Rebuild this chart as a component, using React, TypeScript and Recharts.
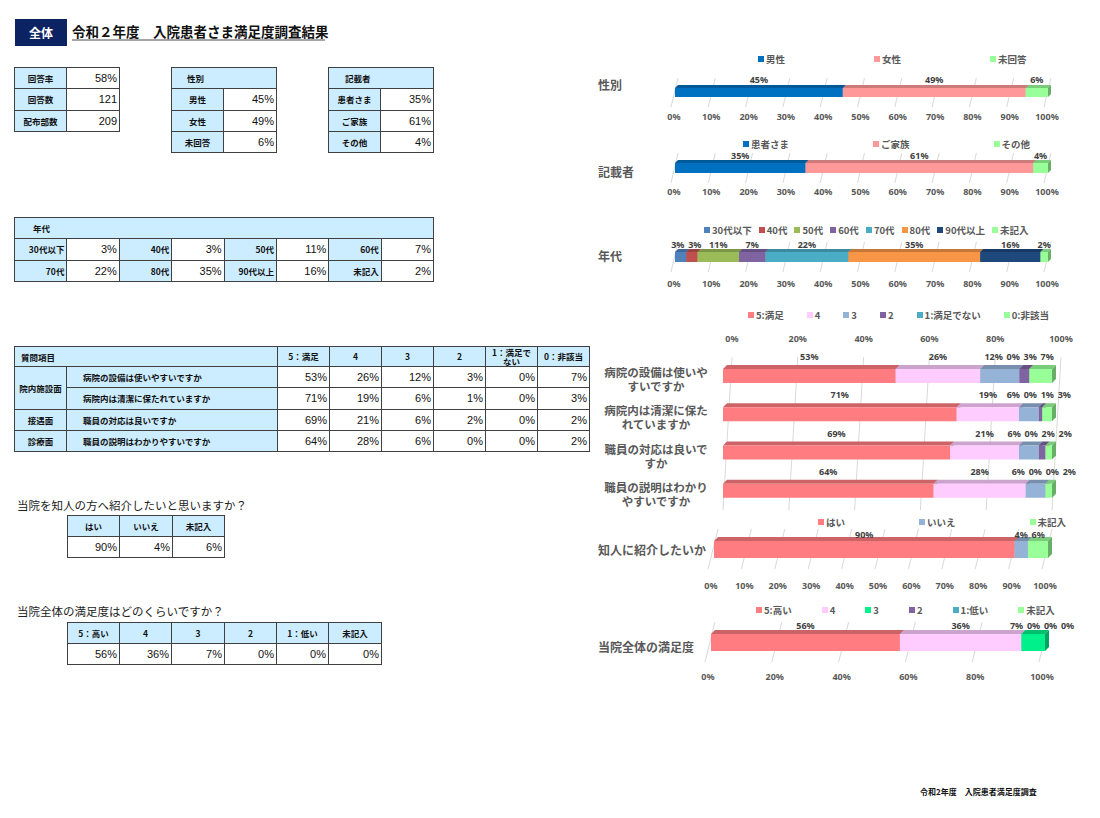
import React from 'react';
import { BarChart, Bar, XAxis, YAxis, CartesianGrid, Legend } from 'recharts';

// ---------------- data ----------------
const pageTag = '全体';
const pageTitle = '令和２年度　入院患者さま満足度調査結果';
const footerText = '令和2年度　入院患者満足度調査';

const responseLabels = ['回答率', '回答数', '配布部数'];
const responseValues = ['58%', '121', '209'];

const genderTitle = '性別';
const genderLabels = ['男性', '女性', '未回答'];
const genderValues = [45, 49, 6];

const writerTitle = '記載者';
const writerLabels = ['患者さま', 'ご家族', 'その他'];
const writerValues = [35, 61, 4];

const ageTitle = '年代';
const ageLabels = ['30代以下', '40代', '50代', '60代', '70代', '80代', '90代以上', '未記入'];
const ageValues = [3, 3, 11, 7, 22, 35, 16, 2];

const questionHeader = '質問項目';
const ratingHeaders = ['5：満足', '4', '3', '2', '1：満足でない', '0：非該当'];
const ratingLegend = ['5:満足', '4', '3', '2', '1:満足でない', '0:非該当'];
const questionGroups = ['院内施設面', '接遇面', '診療面'];
const questionGroupSpans = [2, 1, 1];
const questionTexts = [
  '病院の設備は使いやすいですか',
  '病院内は清潔に保たれていますか',
  '職員の対応は良いですか',
  '職員の説明はわかりやすいですか',
];
const questionChartLabels = [
  '病院の設備は使いや\nすいですか',
  '病院内は清潔に保た\nれていますか',
  '職員の対応は良いで\nすか',
  '職員の説明はわかり\nやすいですか',
];
const rating5 = [53, 71, 69, 64];
const rating4 = [26, 19, 21, 28];
const rating3 = [12, 6, 6, 6];
const rating2 = [3, 1, 2, 0];
const rating1 = [0, 0, 0, 0];
const rating0 = [7, 3, 2, 2];
const ratingRows = [rating5, rating4, rating3, rating2, rating1, rating0];
const ratingStackOrder = [0, 1, 2, 4, 3, 5];

const recommendQuestion = '当院を知人の方へ紹介したいと思いますか？';
const recommendTitle = '知人に紹介したいか';
const recommendLabels = ['はい', 'いいえ', '未記入'];
const recommendValues = [90, 4, 6];

const overallQuestion = '当院全体の満足度はどのくらいですか？';
const overallTitle = '当院全体の満足度';
const overallLabels = ['5：高い', '4', '3', '2', '1：低い', '未記入'];
const overallLegend = ['5:高い', '4', '3', '2', '1:低い', '未記入'];
const overallValues = [56, 36, 7, 0, 0, 0];

const tenthTicks = [0, 0.1, 0.2, 0.3, 0.4, 0.5, 0.6, 0.7, 0.8, 0.9, 1];
const fifthTicks = [0, 0.2, 0.4, 0.6, 0.8, 1];

const twoColors = ['#0070c0', '#ff9999', '#99ff99'];
const ageColors = ['#4f81bd', '#c0504d', '#9bbb59', '#8064a2', '#4bacc6', '#f79646', '#1f497d', '#99ff99'];
const ratingColors = ['#ff7c80', '#ffccff', '#95b3d7', '#8064a2', '#4bacc6', '#99ff99'];
const recommendColors = ['#ff7c80', '#95b3d7', '#99ff99'];
const overallColors = ['#ff7c80', '#ffccff', '#00f08c', '#8064a2', '#4bacc6', '#99ff99'];

// ---------------- styles ----------------
const FONT = '"Noto Sans CJK JP", "Noto Sans", sans-serif';
const NUM = '"Liberation Sans", Arial, sans-serif';
const TICKFONT = '"Noto Sans", "Noto Sans CJK JP", sans-serif';
const GRAY = '#595959';
const BORDER = '1px solid #404040';
const HEAD_BG = '#ccecff';

const labelCell = (o: React.CSSProperties = {}): React.CSSProperties => ({
  border: BORDER, background: HEAD_BG, fontFamily: FONT, fontWeight: 700, fontSize: 8.5,
  color: '#111', textAlign: 'center', padding: '0 2px', whiteSpace: 'nowrap', overflow: 'hidden', ...o,
});
const valueCell = (o: React.CSSProperties = {}): React.CSSProperties => ({
  border: BORDER, background: '#fff', fontFamily: NUM, fontSize: 11, color: '#111',
  textAlign: 'right', padding: '0 2px', whiteSpace: 'nowrap', ...o,
});

function Tbl({ left, top, cols, children }: { left: number; top: number; cols: number[]; children: any }) {
  const w = cols.reduce((a, b) => a + b, 0);
  return (
    <table style={{ position: 'absolute', left, top, width: w, borderCollapse: 'collapse', tableLayout: 'fixed' }}>
      <colgroup>{cols.map((c, i) => <col key={i} style={{ width: c }} />)}</colgroup>
      <tbody>{children}</tbody>
    </table>
  );
}

// ---------------- chart helpers ----------------
function shade(hex: string, f: number) {
  const n = parseInt(hex.slice(1), 16);
  const r = Math.round(((n >> 16) & 255) * f);
  const g = Math.round(((n >> 8) & 255) * f);
  const b = Math.round((n & 255) * f);
  return `rgb(${r},${g},${b})`;
}

function Box3D(props: any) {
  const { x, y, width, height, fill, depth } = props;
  if (!width || width <= 0.01) return <g />;
  const d = depth;
  return (
    <g>
      <polygon points={`${x},${y} ${x + width},${y} ${x + width + d},${y - d} ${x + d},${y - d}`} fill={shade(fill, 0.8)} />
      <polygon points={`${x + width},${y} ${x + width + d},${y - d} ${x + width + d},${y + height - d} ${x + width},${y + height}`} fill={shade(fill, 0.68)} />
      <rect x={x} y={y} width={width} height={height} fill={fill} />
    </g>
  );
}

function spreadLabels(values: number[], plotW: number): number[] {
  const sum = values.reduce((a, b) => a + b, 0) || 1;
  let cum = 0;
  const centers = values.map((v) => {
    const c = ((cum + v / 2) / sum) * plotW;
    cum += v;
    return c;
  });
  const widths = values.map((v) => String(v).length * 5 + 8);
  const pos = centers.slice();
  for (let it = 0; it < 200; it++) {
    for (let i = 1; i < pos.length; i++) {
      const need = (widths[i - 1] + widths[i]) / 2 + 4;
      const gap = pos[i] - pos[i - 1];
      if (gap < need) {
        const d = (need - gap) / 2;
        pos[i - 1] -= d;
        pos[i] += d;
      }
    }
  }
  return pos.map((p, i) => p - centers[i]);
}

function LegendRow({ names, colors, start, gap }: { names: string[]; colors: string[]; start: number; gap: number }) {
  return (
    <div style={{ display: 'flex', paddingLeft: start, columnGap: gap, fontFamily: FONT, fontSize: 9.5, fontWeight: 700, color: GRAY, lineHeight: '12px', whiteSpace: 'nowrap' }}>
      {names.map((n, i) => (
        <div key={n + i} style={{ display: 'flex', alignItems: 'center' }}>
          <span style={{ display: 'inline-block', width: 6, height: 6, background: colors[i], marginRight: 2 }} />
          {n}
        </div>
      ))}
    </div>
  );
}

type Geo = {
  left: number; top: number; width: number; height: number;
  margin: { top: number; right: number; bottom: number; left: number };
  yWidth: number; xOrient: 'top' | 'bottom'; xHeight: number; tickMargin: number; tickDx: number;
  barSize: number; depth: number; labelRise: number;
  legendTop: number; legendStart: number; legendGap: number;
  gridTop: number; gridBottom: number;
};

function StackChart({ geo, names, rows, seriesNames, colors, stackOrder, ticks, categoryTick }: {
  geo: Geo; names: string[]; rows: number[][]; seriesNames: string[]; colors: string[];
  stackOrder: number[]; ticks: number[]; categoryTick: (p: any) => any;
}) {
  const keys = seriesNames.map((_, i) => `s${i}`);
  const data = names.map((name, r) => {
    const o: any = { name };
    rows.forEach((vals, si) => { o[keys[si]] = vals[r]; });
    return o;
  });
  const plotW = geo.width - geo.margin.left - geo.margin.right - geo.yWidth;
  const shifts = names.map((_, r) => spreadLabels(stackOrder.map((si) => rows[si][r]), plotW));

  const renderLabel = (lp: any, pos: number, si: number) => {
    const vb = lp.viewBox || {};
    const bx = vb.x ?? lp.x;
    const bw = vb.width ?? lp.width ?? 0;
    const by = vb.y ?? lp.y;
    const r = typeof lp.index === 'number' ? lp.index : 0;
    const v = rows[si][r];
    return (
      <text key={`lab-${si}-${r}`} x={bx + bw / 2 + shifts[r][pos]} y={by - geo.labelRise} textAnchor="middle" dominantBaseline="central"
        fontSize={9} fontWeight={700} fill="#404040" fontFamily={TICKFONT}>{`${v}%`}</text>
    );
  };

  return (
    <div style={{ position: 'absolute', left: geo.left, top: geo.top }}>
      <BarChart width={geo.width} height={geo.height} data={data} layout="vertical" stackOffset="expand" margin={geo.margin}>
        <CartesianGrid horizontal={false}
          vertical={(lp: any) => (
            <line key={lp.key ?? `g${lp.index}`} x1={lp.x1 + geo.gridTop} y1={lp.y1} x2={lp.x2 + geo.gridBottom} y2={lp.y2} stroke="#d9d9d9" strokeWidth={1} />
          )} />
        <XAxis type="number" domain={[0, 1]} ticks={ticks} orientation={geo.xOrient} height={geo.xHeight}
          tickSize={0} tickMargin={geo.tickMargin} axisLine={false} tickLine={false} interval={0}
          tickFormatter={(v: number) => `${Math.round(v * 100)}%`}
          tick={{ fontSize: 9, fontWeight: 700, fill: GRAY, fontFamily: TICKFONT, dx: geo.tickDx }} />
        <YAxis type="category" dataKey="name" width={geo.yWidth} axisLine={false} tickLine={false} interval={0} tick={categoryTick} />
        <Legend verticalAlign="middle" align="center" layout="horizontal"
          wrapperStyle={{ top: geo.legendTop, left: 0, width: geo.width, height: 12 }}
          content={() => <LegendRow names={seriesNames} colors={colors} start={geo.legendStart} gap={geo.legendGap} />} />
        {stackOrder.map((si, pos) => (
          <Bar key={keys[si]} dataKey={keys[si]} name={seriesNames[si]} stackId="a" fill={colors[si]}
            barSize={geo.barSize} isAnimationActive={false}
            shape={(sp: any) => <Box3D {...sp} fill={colors[si]} depth={geo.depth} />}
            label={(lp: any) => renderLabel(lp, pos, si)} />
        ))}
      </BarChart>
    </div>
  );
}

const singleTick = (dy: number) => (tp: any) => (
  <text x={8} y={tp.y + dy} dominantBaseline="central" fontSize={12} fontWeight={700} fill={GRAY} fontFamily={FONT}>
    {tp.payload.value}
  </text>
);

const questionTick = (tp: any) => {
  const lines = String(tp.payload.value).split('\n');
  return (
    <text textAnchor="middle" fontSize={11.5} fontWeight={700} fill={GRAY} fontFamily={FONT}>
      {lines.map((l, i) => (
        <tspan key={i} x={66} y={tp.y - 3 + i * 14 + 4}>{l}</tspan>
      ))}
    </text>
  );
};

const geoGender: Geo = {
  left: 590, top: 48, width: 480, height: 78, margin: { top: 30, right: 22, bottom: 1, left: 0 },
  yWidth: 85, xOrient: 'bottom', xHeight: 18, tickMargin: 6.5, tickDx: -1, barSize: 9, depth: 3, labelRise: 9,
  legendTop: 5, legendStart: 168, legendGap: 89, gridTop: 3, gridBottom: -4,
};
const geoWriter: Geo = {
  left: 590, top: 126, width: 480, height: 76, margin: { top: 27, right: 22, bottom: 1, left: 0 },
  yWidth: 85, xOrient: 'bottom', xHeight: 18, tickMargin: 5.5, tickDx: -1, barSize: 10, depth: 3, labelRise: 8,
  legendTop: 12, legendStart: 153, legendGap: 84, gridTop: 3, gridBottom: -4,
};
const geoAge: Geo = {
  left: 590, top: 214, width: 480, height: 80, margin: { top: 28, right: 22, bottom: 2, left: 0 },
  yWidth: 85, xOrient: 'bottom', xHeight: 20, tickMargin: 9, tickDx: -1, barSize: 10, depth: 3, labelRise: 8,
  legendTop: 10, legendStart: 114, legendGap: 7, gridTop: 3, gridBottom: -4,
};
const geoQuestions: Geo = {
  left: 590, top: 300, width: 505, height: 212, margin: { top: 41, right: 43, bottom: 2, left: 0 },
  yWidth: 133, xOrient: 'top', xHeight: 16, tickMargin: 15, tickDx: 9, barSize: 14, depth: 4, labelRise: 12.5,
  legendTop: 9, legendStart: 158, legendGap: 23, gridTop: 9, gridBottom: 0,
};
const geoRecommend: Geo = {
  left: 590, top: 510, width: 480, height: 85, margin: { top: 19, right: 22, bottom: 2, left: 0 },
  yWidth: 124, xOrient: 'bottom', xHeight: 24, tickMargin: 14, tickDx: -3, barSize: 17, depth: 4, labelRise: 7,
  legendTop: 6, legendStart: 228, legendGap: 74, gridTop: 4, gridBottom: -6,
};
const geoOverall: Geo = {
  left: 590, top: 600, width: 505, height: 86, margin: { top: 22, right: 50, bottom: 2, left: 0 },
  yWidth: 121, xOrient: 'bottom', xHeight: 22, tickMargin: 11.5, tickDx: -3, barSize: 17, depth: 4, labelRise: 8.5,
  legendTop: 4, legendStart: 166, legendGap: 30, gridTop: 4, gridBottom: -6,
};

const single = (vals: number[]) => vals.map((v) => [v]);
const idx = (n: number) => Array.from({ length: n }, (_, i) => i);

export default function App() {
  const rowH = 21.3;
  return (
    <div style={{ position: 'relative', width: 1100, height: 818, margin: -8, background: '#fff', overflow: 'hidden', fontFamily: FONT }}>
      {/* header */}
      <div style={{ position: 'absolute', left: 15, top: 19, width: 52, height: 27, background: '#0c2363', color: '#fff', fontWeight: 700, fontSize: 12, display: 'flex', alignItems: 'center', justifyContent: 'center' }}>{pageTag}</div>
      <div style={{ position: 'absolute', left: 72, top: 24, width: 253, fontSize: 13.5, fontWeight: 700, lineHeight: '15px', color: '#111', borderBottom: '2px solid #a6a6a6', whiteSpace: 'nowrap' }}>{pageTitle}</div>

      {/* response table */}
      <Tbl left={14} top={67} cols={[52, 53]}>
        {responseLabels.map((l, i) => (
          <tr key={l} style={{ height: rowH }}>
            <td style={labelCell()}>{l}</td>
            <td style={valueCell()}>{responseValues[i]}</td>
          </tr>
        ))}
      </Tbl>

      {/* gender table */}
      <Tbl left={171} top={67} cols={[52, 53]}>
        <tr style={{ height: rowH }}><td colSpan={2} style={labelCell({ textAlign: 'left', paddingLeft: 15 })}>{genderTitle}</td></tr>
        {genderLabels.map((l, i) => (
          <tr key={l} style={{ height: rowH }}>
            <td style={labelCell()}>{l}</td>
            <td style={valueCell()}>{`${genderValues[i]}%`}</td>
          </tr>
        ))}
      </Tbl>

      {/* writer table */}
      <Tbl left={328} top={67} cols={[52, 53]}>
        <tr style={{ height: rowH }}><td colSpan={2} style={labelCell({ textAlign: 'left', paddingLeft: 16 })}>{writerTitle}</td></tr>
        {writerLabels.map((l, i) => (
          <tr key={l} style={{ height: rowH }}>
            <td style={labelCell()}>{l}</td>
            <td style={valueCell()}>{`${writerValues[i]}%`}</td>
          </tr>
        ))}
      </Tbl>

      {/* age table */}
      <Tbl left={14} top={217} cols={[52.4, 52.4, 52.4, 52.4, 52.4, 52.4, 52.4, 52.2]}>
        <tr style={{ height: rowH }}><td colSpan={8} style={labelCell({ textAlign: 'left', paddingLeft: 18 })}>{ageTitle}</td></tr>
        {[0, 4].map((s) => (
          <tr key={s} style={{ height: rowH }}>
            {ageLabels.slice(s, s + 4).map((l, j) => (
              <React.Fragment key={l}>
                <td style={labelCell({ textAlign: 'right' })}>{l}</td>
                <td style={valueCell()}>{`${ageValues[s + j]}%`}</td>
              </React.Fragment>
            ))}
          </tr>
        ))}
      </Tbl>

      {/* question table */}
      <Tbl left={14} top={346} cols={[52, 211, 52, 52, 52, 52, 52, 52]}>
        <tr style={{ height: 20 }}>
          <td colSpan={2} style={labelCell({ textAlign: 'left', paddingLeft: 6 })}>{questionHeader}</td>
          {ratingHeaders.map((h) => (
            <td key={h} style={labelCell({ whiteSpace: 'normal', lineHeight: '9px', fontSize: 8.5 })}>{h}</td>
          ))}
        </tr>
        {questionTexts.map((q, r) => {
          let groupCell = null;
          let acc = 0;
          questionGroups.forEach((g, gi) => {
            if (acc === r) groupCell = <td rowSpan={questionGroupSpans[gi]} style={labelCell()}>{g}</td>;
            acc += questionGroupSpans[gi];
          });
          return (
            <tr key={q} style={{ height: 21.3 }}>
              {groupCell}
              <td style={labelCell({ textAlign: 'left', paddingLeft: 16 })}>{q}</td>
              {ratingRows.map((row, c) => (
                <td key={c} style={valueCell()}>{`${row[r]}%`}</td>
              ))}
            </tr>
          );
        })}
      </Tbl>

      {/* recommend */}
      <div style={{ position: 'absolute', left: 17, top: 497, fontSize: 11.5, color: '#222', whiteSpace: 'nowrap', lineHeight: '16px' }}>{recommendQuestion}</div>
      <Tbl left={67} top={515} cols={[52, 53, 52]}>
        <tr style={{ height: 21 }}>{recommendLabels.map((l) => <td key={l} style={labelCell()}>{l}</td>)}</tr>
        <tr style={{ height: 21 }}>{recommendValues.map((v, i) => <td key={i} style={valueCell()}>{`${v}%`}</td>)}</tr>
      </Tbl>

      {/* overall */}
      <div style={{ position: 'absolute', left: 17, top: 603, fontSize: 11.5, color: '#222', whiteSpace: 'nowrap', lineHeight: '16px' }}>{overallQuestion}</div>
      <Tbl left={67} top={622} cols={[52, 52, 53, 52, 52, 53]}>
        <tr style={{ height: 21 }}>{overallLabels.map((l) => <td key={l} style={labelCell()}>{l}</td>)}</tr>
        <tr style={{ height: 21 }}>{overallValues.map((v, i) => <td key={i} style={valueCell()}>{`${v}%`}</td>)}</tr>
      </Tbl>

      {/* charts */}
      <StackChart geo={geoGender} names={[genderTitle]} rows={single(genderValues)} seriesNames={genderLabels}
        colors={twoColors} stackOrder={idx(3)} ticks={tenthTicks} categoryTick={singleTick(-8)} />
      <StackChart geo={geoWriter} names={[writerTitle]} rows={single(writerValues)} seriesNames={writerLabels}
        colors={twoColors} stackOrder={idx(3)} ticks={tenthTicks} categoryTick={singleTick(3)} />
      <StackChart geo={geoAge} names={[ageTitle]} rows={single(ageValues)} seriesNames={ageLabels}
        colors={ageColors} stackOrder={idx(8)} ticks={tenthTicks} categoryTick={singleTick(-2)} />
      <StackChart geo={geoQuestions} names={questionChartLabels} rows={ratingRows} seriesNames={ratingLegend}
        colors={ratingColors} stackOrder={ratingStackOrder} ticks={fifthTicks} categoryTick={questionTick} />
      <StackChart geo={geoRecommend} names={[recommendTitle]} rows={single(recommendValues)} seriesNames={recommendLabels}
        colors={recommendColors} stackOrder={idx(3)} ticks={tenthTicks} categoryTick={singleTick(0)} />
      <StackChart geo={geoOverall} names={[overallTitle]} rows={single(overallValues)} seriesNames={overallLegend}
        colors={overallColors} stackOrder={idx(6)} ticks={fifthTicks} categoryTick={singleTick(4)} />

      <div style={{ position: 'absolute', left: 920, top: 786, fontSize: 8, fontWeight: 700, color: '#111', whiteSpace: 'nowrap' }}>{footerText}</div>
    </div>
  );
}
